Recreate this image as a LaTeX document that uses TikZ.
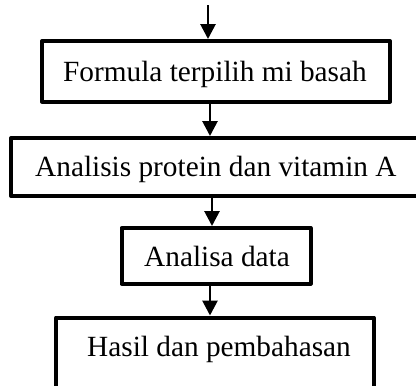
\documentclass[tikz,border=0pt]{standalone}
\usepackage{fontspec}
\setmainfont{Liberation Serif}
\usetikzlibrary{arrows.meta}
\begin{document}
\begin{tikzpicture}[x=1pt,y=-1pt,
  box/.style={draw=black, line width=4pt, line join=round, inner sep=0pt, fill=white, rectangle},
  lbl/.style={anchor=base west, inner sep=0pt, font=\fontsize{29.3}{35}\selectfont},
  arr/.style={line width=2.8pt, -{Triangle[width=15pt,length=15pt]}}]
\useasboundingbox (0,0) rectangle (416,386);
\clip (0,0) rectangle (416,386);
\fill[white] (0,0) rectangle (416,386);
% boxes
\node[box, minimum width=348pt, minimum height=60.5pt] (b1) at (216,71.25) {};
\node[box, minimum width=410pt, minimum height=58pt] (b2) at (216,167) {};
\node[box, minimum width=189pt, minimum height=55.5pt] (b3) at (216,255.75) {};
\node[box, minimum width=317.5pt, minimum height=82.5pt] (b4) at (214.75,358.75) {};
% texts
\node[lbl] (t1) at (63,81.5) {Formula terpilih mi basah};
\node[lbl] (t2) at (35,176.7) {Analisis protein dan vitamin A};
\node[lbl] (t3) at (144,266.7) {Analisa data};
\node[lbl] (t4) at (87,356.7) {Hasil dan pembahasan};
% connectors
\coordinate (top) at (208,5);
\coordinate (x2) at (210,0);
\coordinate (x3) at (212,0);
\coordinate (x4) at (210,0);
\draw[arr] (top) -- (top |- b1.north);
\draw[arr] (x2 |- b1.south) -- (x2 |- b2.north);
\draw[arr] (x3 |- b2.south) -- (x3 |- b3.north);
\draw[arr] (x4 |- b3.south) -- (x4 |- b4.north);
\end{tikzpicture}
\end{document}
